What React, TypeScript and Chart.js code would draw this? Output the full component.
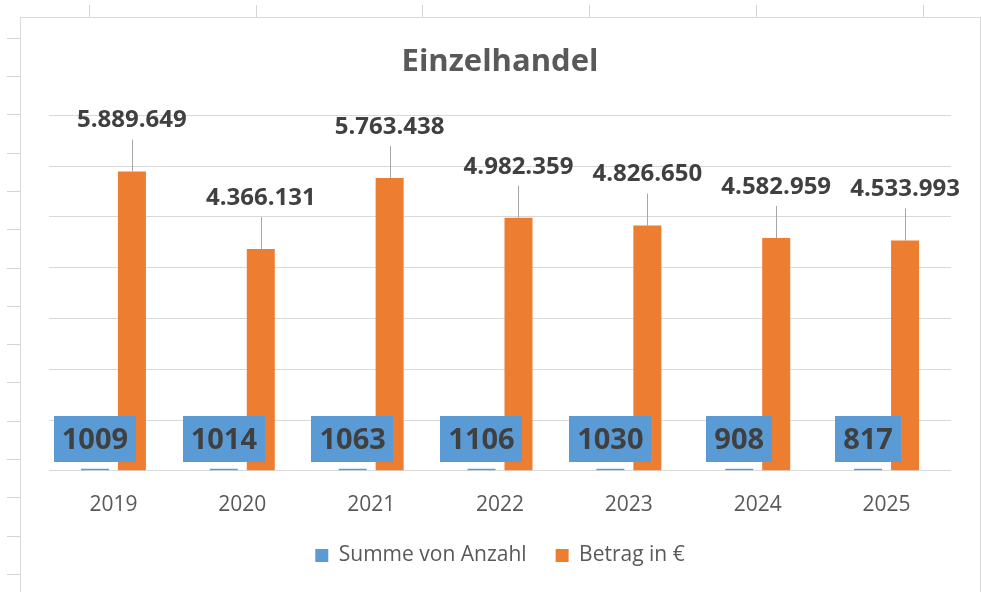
import React, { useEffect, useRef } from "react";
import { Chart, registerables } from "chart.js";

Chart.register(...registerables);

const years = ["2019", "2020", "2021", "2022", "2023", "2024", "2025"];
const anzahl = [1009, 1014, 1063, 1106, 1030, 908, 817];
const betrag = [5889649, 4366131, 5763438, 4982359, 4826650, 4582959, 4533993];
const seriesNames = ["Summe von Anzahl", "Betrag in €"];
const chartTitle = "Einzelhandel";

const FONT = '"Open Sans", "Noto Sans", sans-serif';
const BLUE = "#5B9BD5";
const ORANGE = "#ED7D31";
const TEXT_DARK = "#404040";
const TEXT_GREY = "#595959";
const GRID = "#d9d9d9";

function fmtDE(n: number): string {
  return String(Math.round(n)).replace(/\B(?=(\d{3})+(?!\d))/g, ".");
}

const labelPlugin = {
  id: "valueLabels",
  afterDatasetsDraw(chart: any) {
    const ctx = chart.ctx as CanvasRenderingContext2D;
    const m0 = chart.getDatasetMeta(0);
    const m1 = chart.getDatasetMeta(1);
    const d0 = chart.data.datasets[0].data as number[];
    const d1 = chart.data.datasets[1].data as number[];
    ctx.save();
    ctx.textAlign = "center";
    ctx.textBaseline = "middle";
    // orange value labels with leader lines
    ctx.font = `bold 24px ${FONT}`;
    m1.data.forEach((bar: any, i: number) => {
      const { x, y } = bar.getProps(["x", "y"], true);
      const ly = y - 51;
      ctx.strokeStyle = "#a6a6a6";
      ctx.lineWidth = 1;
      ctx.beginPath();
      ctx.moveTo(Math.round(x) + 0.5, ly + 19);
      ctx.lineTo(Math.round(x) + 0.5, y);
      ctx.stroke();
      ctx.fillStyle = TEXT_DARK;
      ctx.fillText(fmtDE(d1[i]), x, ly);
    });
    // blue boxed labels
    ctx.font = `bold 29px ${FONT}`;
    m0.data.forEach((bar: any, i: number) => {
      const { x, base } = bar.getProps(["x", "base"], true);
      const text = String(d0[i]);
      const w = ctx.measureText(text).width + 16;
      const h = 46;
      const bottom = base - 8;
      ctx.fillStyle = BLUE;
      ctx.fillRect(Math.round(x - w / 2), Math.round(bottom - h), Math.round(w), h);
      ctx.fillStyle = TEXT_DARK;
      ctx.fillText(text, x, bottom - h / 2 + 1);
    });
    ctx.restore();
  },
};

function Decor() {
  const leftTicks = [];
  for (let k = 0; k < 15; k++) {
    const y = Math.round(37.7 + 38.3 * k);
    leftTicks.push(
      <div key={"l" + k} style={{ position: "absolute", left: 7, top: y, width: 13, height: 1, background: "#d4d4d4" }} />
    );
  }
  const topTicks = [];
  for (let k = 0; k < 6; k++) {
    const x = Math.round(89 + 166.7 * k);
    topTicks.push(
      <div key={"t" + k} style={{ position: "absolute", left: x, top: 5, width: 1, height: 12, background: "#d4d4d4" }} />
    );
  }
  return (
    <>
      {leftTicks}
      {topTicks}
      <div style={{ position: "absolute", left: 20, top: 17, width: 961, height: 1, background: GRID }} />
      <div style={{ position: "absolute", left: 20, top: 17, width: 1, height: 575, background: GRID }} />
      <div style={{ position: "absolute", left: 980, top: 17, width: 1, height: 575, background: GRID }} />
    </>
  );
}

export default function App() {
  const ref = useRef<HTMLCanvasElement | null>(null);

  useEffect(() => {
    if (!ref.current) return;
    const chart = new Chart(ref.current, {
      type: "bar",
      data: {
        labels: years,
        datasets: [
          {
            label: seriesNames[0],
            data: anzahl,
            backgroundColor: BLUE,
            minBarLength: 2,
            categoryPercentage: 0.574,
            barPercentage: 0.757,
          },
          {
            label: seriesNames[1],
            data: betrag,
            backgroundColor: ORANGE,
            categoryPercentage: 0.574,
            barPercentage: 0.757,
          },
        ],
      },
      options: {
        responsive: false,
        animation: false,
        devicePixelRatio: 1,
        layout: { padding: { left: 28, right: 28, top: 0, bottom: 16 } },
        plugins: {
          title: {
            display: true,
            text: chartTitle,
            color: TEXT_GREY,
            font: { family: FONT, size: 31, weight: "bold" },
            padding: { top: 26, bottom: 34 },
          },
          legend: {
            display: true,
            position: "bottom",
            labels: {
              color: TEXT_GREY,
              font: { family: FONT, size: 21 },
              boxWidth: 13,
              boxHeight: 13,
              padding: 29,
            },
          },
          tooltip: { enabled: false },
        },
        scales: {
          x: {
            grid: { display: false, drawTicks: false },
            border: { display: false },
            ticks: { color: TEXT_GREY, font: { family: FONT, size: 21 }, padding: 22 },
            afterFit: (axis: any) => {
              axis.height -= 24;
            },
          },
          y: {
            min: 0,
            max: 7000000,
            ticks: { display: false, stepSize: 1000000 },
            grid: { color: GRID, lineWidth: 1, drawTicks: false },
            border: { display: false },
          },
        },
      },
      plugins: [labelPlugin],
    } as any);
    return () => chart.destroy();
  }, []);

  return (
    <div style={{ position: "absolute", left: 0, top: 0, width: 981, height: 592, background: "#fff", overflow: "hidden" }}>
      <Decor />
      <canvas
        ref={ref}
        width={958}
        height={574}
        style={{ position: "absolute", left: 21, top: 18, width: 958, height: 574 }}
      />
    </div>
  );
}
